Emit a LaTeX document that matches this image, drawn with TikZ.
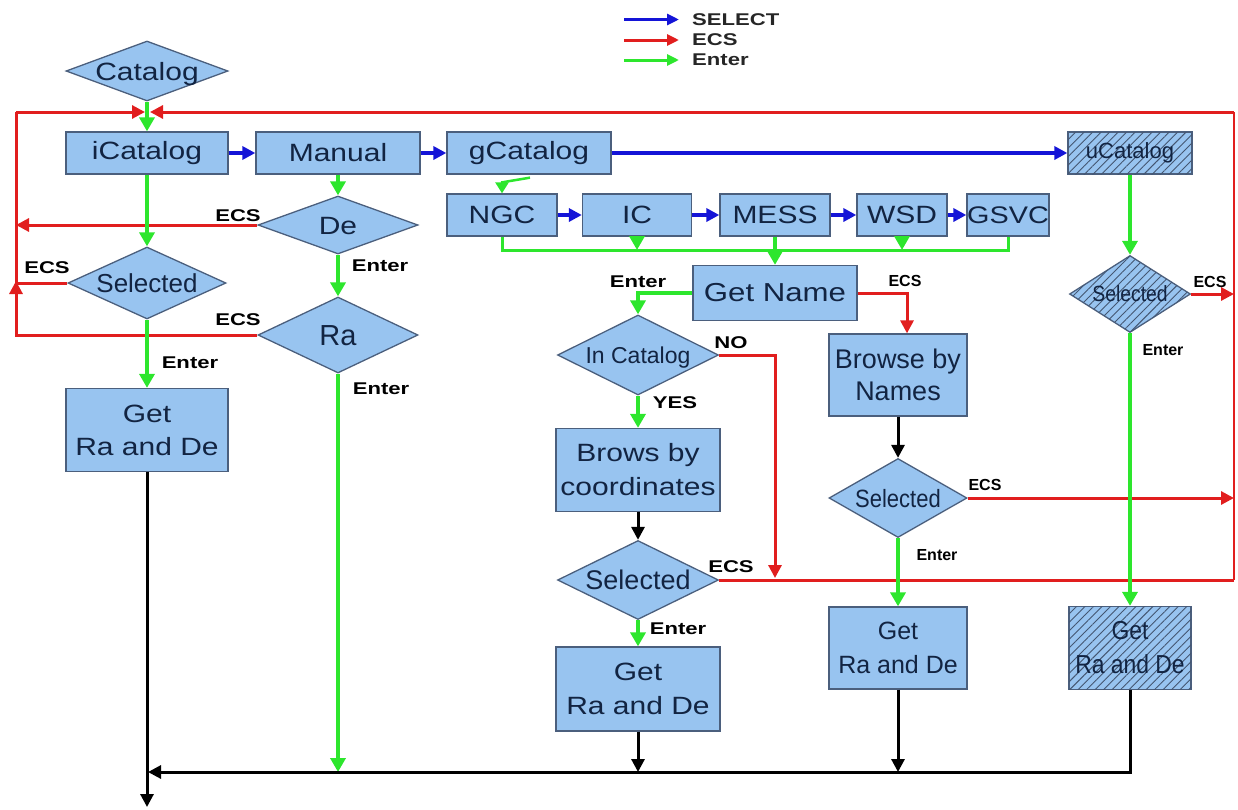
\documentclass[tikz,border=0pt]{standalone}
\usepackage{fontspec}
\setmainfont{Liberation Sans}
\newfontfamily\wf[FakeStretch=1.2]{Liberation Sans}
\newfontfamily\cf[FakeStretch=0.88]{Liberation Sans}
\newfontfamily\lf[FakeStretch=1.3]{Liberation Sans}
\usetikzlibrary{shapes.geometric,arrows.meta,patterns.meta}
\newcommand\fs[2]{\fontsize{#1}{#2}\selectfont}
\newcommand\zt[1]{\makebox[0pt]{\raisebox{-.36em}[0pt][0pt]{#1}}}
\definecolor{boxfill}{RGB}{152,196,240}
\definecolor{boxdraw}{RGB}{75,95,125}
\definecolor{txt}{RGB}{18,36,66}
\definecolor{grn}{RGB}{45,230,45}
\definecolor{blu}{RGB}{20,20,215}
\definecolor{rd}{RGB}{225,30,30}
\tikzset{
  box/.style={draw=boxdraw, fill=boxfill, line width=1.3pt, inner sep=0pt, text=txt, align=center},
  dia/.style={diamond, draw=boxdraw, fill=boxfill, line width=1.3pt, inner sep=0pt, text=txt},
  hatch/.style={postaction={pattern={Lines[angle=45,distance=6pt,line width=0.9pt]}, pattern color=boxdraw!90!black}},
  tip/.style={-{Triangle[length=14pt,width=15pt]}},
  stip/.style={-{Triangle[length=13pt,width=13pt]}},
  garr/.style={draw=grn, line width=4pt, tip},
  gline/.style={draw=grn, line width=3pt},
  barr/.style={draw=blu, line width=3.5pt, stip},
  rarr/.style={draw=rd, line width=3pt, stip},
  rline/.style={draw=rd, line width=3pt},
  rthin/.style={draw=rd, line width=2pt},
  karr/.style={draw=black, line width=3pt, stip},
  lbl/.style={font=\lf\bfseries\fs{17}{20}, text=black, inner sep=0pt},
  lbn/.style={font=\bfseries\fs{16}{19}, text=black, inner sep=0pt},
  leg/.style={font=\lf\bfseries\fs{17}{20}, text=black!85, inner sep=0pt, anchor=west},
  legarr/.style={line width=3pt, -{Triangle[length=12pt,width=11pt]}},
}
\begin{document}
\begin{tikzpicture}[x=1pt,y=-1pt]
\useasboundingbox (0,0) rectangle (1238,809);

% ---------- nodes ----------
\node[dia, minimum width=162pt, minimum height=60pt, font=\wf\fs{25}{30}] (cat) at (147,71) {\zt{Catalog}};
\node[box, minimum width=162pt, minimum height=42pt, font=\wf\fs{25}{30}] (icat) at (147,153) {iCatalog};
\node[box, minimum width=164pt, minimum height=42pt, font=\wf\fs{25}{30}] (man) at (338,153) {Manual};
\node[box, minimum width=164pt, minimum height=42pt, font=\wf\fs{25}{30}] (gcat) at (529,153) {gCatalog};
\node[box, hatch, minimum width=124pt, minimum height=42pt, font=\fs{22}{26}] (ucat) at (1130,153) {uCatalog};

\node[box, minimum width=110pt, minimum height=42pt, font=\wf\fs{25}{30}] (ngc) at (502,215) {NGC};
\node[box, minimum width=109pt, minimum height=42pt, font=\wf\fs{25}{30}] (ic) at (637,215) {IC};
\node[box, minimum width=110pt, minimum height=42pt, font=\wf\fs{25}{30}] (mess) at (775,215) {MESS};
\node[box, minimum width=90pt, minimum height=42pt, font=\wf\fs{25}{30}] (wsd) at (902,215) {WSD};
\node[box, minimum width=82pt, minimum height=42pt, font=\wf\fs{24}{30}] (gsvc) at (1008,215) {GSVC};

\node[dia, minimum width=160pt, minimum height=58pt, font=\wf\fs{25}{30}] (de) at (338,225) {\zt{De}};
\node[dia, minimum width=160pt, minimum height=76pt, font=\fs{29}{34}] (ra) at (338,335) {\zt{Ra}};
\node[dia, minimum width=158pt, minimum height=72pt, font=\fs{26}{30}] (sel1) at (147,283) {\zt{Selected}};
\node[box, minimum width=162pt, minimum height=83pt, font=\wf\fs{25}{33}] (rade1) at (147,430) {Get\\Ra and De};

\node[box, minimum width=164pt, minimum height=55pt, font=\wf\fs{26}{30}] (gname) at (775,293) {Get Name};
\node[dia, minimum width=161pt, minimum height=80pt, font=\fs{23}{28}] (inc) at (638,355) {\zt{In Catalog}};
\node[box, minimum width=164pt, minimum height=83pt, font=\wf\fs{25}{34}] (brows) at (638,470) {Brows by\\coordinates};
\node[dia, minimum width=161pt, minimum height=79pt, font=\fs{27}{30}] (sel3) at (638,580) {\zt{Selected}};
\node[box, minimum width=164pt, minimum height=84pt, font=\wf\fs{25}{34}] (rade3) at (638,689) {Get\\Ra and De};

\node[box, minimum width=138pt, minimum height=82pt, font=\fs{27}{32}] (bnames) at (898,375) {Browse by\\Names};
\node[dia, minimum width=138pt, minimum height=79pt, font=\cf\fs{25}{30}] (sel4) at (898,498) {\zt{Selected}};
\node[box, minimum width=138pt, minimum height=82pt, font=\fs{25}{34}] (rade4) at (898,648) {Get\\Ra and De};

\node[dia, hatch, minimum width=121pt, minimum height=77pt, font=\cf\fs{22}{26}] (usel) at (1130,294) {\zt{Selected}};
\node[box, hatch, minimum width=122pt, minimum height=83pt, font=\cf\fs{26}{34}] (rade5) at (1130,648) {Get\\Ra and De};

% ---------- helper coordinates ----------
\coordinate (jn) at (147,112);
\coordinate (lt) at (16,112);
\coordinate (lb) at (16,335);
\coordinate (la) at (16,281);
\coordinate (rt) at (1234,112);
\coordinate (rb) at (1234,580);
\coordinate (bus) at (0,250);
\coordinate (nob) at (775,578);
\coordinate (bot) at (147,772);
\coordinate (end) at (147,807);
\coordinate (gnc) at (638,293);
\coordinate (enr) at (907,293);

% ---------- red (ECS) ----------
\draw[rline] (ra.west) -- (lb) -- (lt);
\draw[rarr] (lb) -- (la);
\draw[rarr] (lt) -- ([xshift=-2pt]jn);
\draw[rarr] (rt) -- ([xshift=3pt]jn);
\draw[rthin] (rt) -- (rb);
\draw[rline] (sel1.west) -- (sel1.west -| lb);
\draw[rarr] (de.west) -- (de.west -| lb);
\draw[rarr] (gname.east) -- (enr) -- (enr |- bnames.north);
\draw[rarr] (inc.east) -| (nob);
\draw[rline] (sel3.east) -- (sel3.east -| rb);
\draw[rarr] (sel4.east) -- (sel4.east -| rb);
\draw[rarr] (usel.east) -- (usel.east -| rb);

% ---------- blue (SELECT) ----------
\draw[barr] (icat.east) -- (man.west);
\draw[barr] (man.east) -- (gcat.west);
\draw[barr] (gcat.east) -- (ucat.west);
\draw[barr] (ngc.east) -- (ic.west);
\draw[barr] (ic.east) -- (mess.west);
\draw[barr] (mess.east) -- (wsd.west);
\draw[barr] (wsd.east) -- (gsvc.west);

% ---------- green (Enter) ----------
\draw[garr] (cat.south) -- (icat.north);
\draw[garr] (icat.south) -- (sel1.north);
\draw[garr] (sel1.south) -- (rade1.north);
\draw[garr] (man.south) -- (de.north);
\draw[garr] (de.south) -- (ra.north);
\draw[garr] (ra.south) -- (ra.south |- bot);
\draw[draw=grn, line width=2.5pt, -{Triangle[length=11pt,width=13pt]}] ([xshift=1pt,yshift=-3pt]gcat.south) -- ([yshift=11pt]ngc.north) -- (ngc.north);
\draw[gline] (ngc.south) -- (ngc.south |- bus) -- (gsvc.south |- bus) -- (gsvc.south);
\draw[garr] (ic.south) -- (ic.south |- bus);
\draw[garr] (wsd.south) -- (wsd.south |- bus);
\draw[garr] (mess.south) -- (gname.north);
\draw[garr] (gname.west) -- (gnc) -- (inc.north);
\draw[garr] (inc.south) -- (brows.north);
\draw[garr] (sel3.south) -- (rade3.north);
\draw[garr] (sel4.south) -- (rade4.north);
\draw[garr] (ucat.south) -- (usel.north);
\draw[garr] (usel.south) -- (rade5.north);

% ---------- black ----------
\draw[karr] (brows.south) -- (sel3.north);
\draw[karr] (bnames.south) -- (sel4.north);
\draw[karr] (rade3.south) -- (rade3.south |- bot);
\draw[karr] (rade4.south) -- (rade4.south |- bot);
\draw[karr] (rade5.south) |- ([xshift=1pt]bot);
\draw[karr] (rade1.south) -- (end);

% ---------- labels ----------
\node[lbl] (l1) at (238,216) {ECS};
\node[lbl] (l2) at (47,268) {ECS};
\node[lbl] (l3) at (238,320) {ECS};
\node[lbl] (l4) at (380,266) {Enter};
\node[lbl] (l5) at (190,363) {Enter};
\node[lbl] (l6) at (381,389) {Enter};
\node[lbl] (l7) at (638,282) {Enter};
\node[lbl] (l8) at (731,343) {NO};
\node[lbl] (l9) at (675,403) {YES};
\node[lbn] (l10) at (905,281) {ECS};
\node[lbl] (l11) at (731,567) {ECS};
\node[lbl] (l12) at (678,629) {Enter};
\node[lbn] (l13) at (985,485) {ECS};
\node[lbn] (l14) at (937,555) {Enter};
\node[lbn] (l15) at (1210,282) {ECS};
\node[lbn] (l16) at (1163,350) {Enter};

% ---------- legend ----------
\node[leg] (lsel) at (692,19.5) {SELECT};
\node[leg] (lecs) at (692,40) {ECS};
\node[leg] (lent) at (692,60) {Enter};
\draw[legarr, draw=blu] ([xshift=-68pt]lsel.west) -- ([xshift=-13pt]lsel.west);
\draw[legarr, draw=rd] ([xshift=-68pt]lecs.west) -- ([xshift=-13pt]lecs.west);
\draw[legarr, draw=grn] ([xshift=-68pt]lent.west) -- ([xshift=-13pt]lent.west);
\end{tikzpicture}
\end{document}
